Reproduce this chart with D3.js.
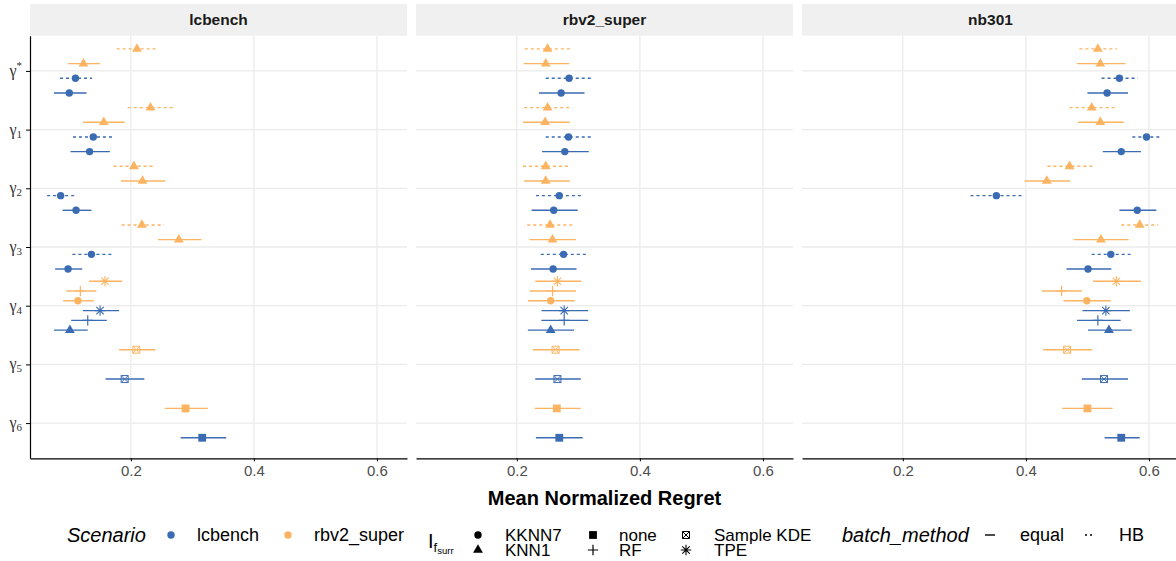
<!DOCTYPE html>
<html>
<head>
<meta charset="utf-8">
<script src="https://cdn.jsdelivr.net/npm/d3@7"></script>
<style>
  body { margin: 0; background: #fff; }
  svg { display: block; font-family: "Liberation Sans", Arial, sans-serif; }
</style>
</head>
<body>
<script>
/* CONSTANTS AND GLOBALS */
const width = 1176, height = 561;
const margin = { top: 4, left: 30 };
const stripH = 31.7, panelW = 377, panelGap = 9, panelH = 422.6;

const facets = ["lcbench", "rbv2_super", "nb301"];
const gammas = ["*", "1", "2", "3", "4", "5", "6"];
const scenarios = ["lcbench", "rbv2_super"];
const surrogates = ["KKNN7", "KNN1", "none", "RF", "Sample KDE", "TPE"];
const batchMethods = ["equal", "HB"];
const xTicks = [0.2, 0.4, 0.6];

// rows per facet, listed top-to-bottom inside each gamma
// [gamma, scenario, surrogate, batch_method, mean, lower, upper]
const lcbenchRows = [
  ["*", "rbv2_super", "KNN1", "HB", 0.210, 0.177, 0.245],
  ["*", "rbv2_super", "KNN1", "equal", 0.123, 0.098, 0.150],
  ["*", "lcbench", "KKNN7", "HB", 0.110, 0.085, 0.137],
  ["*", "lcbench", "KKNN7", "equal", 0.100, 0.075, 0.128],
  ["1", "rbv2_super", "KNN1", "HB", 0.232, 0.195, 0.270],
  ["1", "rbv2_super", "KNN1", "equal", 0.156, 0.122, 0.190],
  ["1", "lcbench", "KKNN7", "HB", 0.139, 0.106, 0.174],
  ["1", "lcbench", "KKNN7", "equal", 0.133, 0.102, 0.166],
  ["2", "rbv2_super", "KNN1", "HB", 0.205, 0.172, 0.240],
  ["2", "rbv2_super", "KNN1", "equal", 0.219, 0.184, 0.256],
  ["2", "lcbench", "KKNN7", "HB", 0.086, 0.064, 0.110],
  ["2", "lcbench", "KKNN7", "equal", 0.111, 0.089, 0.136],
  ["3", "rbv2_super", "KNN1", "HB", 0.218, 0.185, 0.254],
  ["3", "rbv2_super", "KNN1", "equal", 0.278, 0.244, 0.315],
  ["3", "lcbench", "KKNN7", "HB", 0.136, 0.105, 0.169],
  ["3", "lcbench", "KKNN7", "equal", 0.098, 0.077, 0.121],
  ["4", "rbv2_super", "TPE", "equal", 0.158, 0.132, 0.186],
  ["4", "rbv2_super", "RF", "equal", 0.118, 0.095, 0.144],
  ["4", "rbv2_super", "KKNN7", "equal", 0.114, 0.090, 0.140],
  ["4", "lcbench", "TPE", "equal", 0.150, 0.122, 0.181],
  ["4", "lcbench", "RF", "equal", 0.130, 0.103, 0.161],
  ["4", "lcbench", "KNN1", "equal", 0.101, 0.075, 0.130],
  ["5", "rbv2_super", "Sample KDE", "equal", 0.209, 0.181, 0.240],
  ["5", "lcbench", "Sample KDE", "equal", 0.190, 0.159, 0.222],
  ["6", "rbv2_super", "none", "equal", 0.289, 0.255, 0.325],
  ["6", "lcbench", "none", "equal", 0.316, 0.281, 0.355]
];

const rbv2Rows = [
  ["*", "rbv2_super", "KNN1", "HB", 0.250, 0.213, 0.288],
  ["*", "rbv2_super", "KNN1", "equal", 0.247, 0.211, 0.285],
  ["*", "lcbench", "KKNN7", "HB", 0.285, 0.247, 0.323],
  ["*", "lcbench", "KKNN7", "equal", 0.272, 0.236, 0.310],
  ["1", "rbv2_super", "KNN1", "HB", 0.250, 0.212, 0.288],
  ["1", "rbv2_super", "KNN1", "equal", 0.246, 0.210, 0.286],
  ["1", "lcbench", "KKNN7", "HB", 0.284, 0.247, 0.323],
  ["1", "lcbench", "KKNN7", "equal", 0.278, 0.241, 0.317],
  ["2", "rbv2_super", "KNN1", "HB", 0.247, 0.210, 0.286],
  ["2", "rbv2_super", "KNN1", "equal", 0.247, 0.212, 0.286],
  ["2", "lcbench", "KKNN7", "HB", 0.269, 0.231, 0.307],
  ["2", "lcbench", "KKNN7", "equal", 0.260, 0.224, 0.299],
  ["3", "rbv2_super", "KNN1", "HB", 0.254, 0.217, 0.293],
  ["3", "rbv2_super", "KNN1", "equal", 0.258, 0.221, 0.296],
  ["3", "lcbench", "KKNN7", "HB", 0.276, 0.239, 0.316],
  ["3", "lcbench", "KKNN7", "equal", 0.259, 0.223, 0.297],
  ["4", "rbv2_super", "TPE", "equal", 0.266, 0.230, 0.305],
  ["4", "rbv2_super", "RF", "equal", 0.258, 0.221, 0.296],
  ["4", "rbv2_super", "KKNN7", "equal", 0.255, 0.218, 0.294],
  ["4", "lcbench", "TPE", "equal", 0.277, 0.240, 0.316],
  ["4", "lcbench", "RF", "equal", 0.277, 0.240, 0.316],
  ["4", "lcbench", "KNN1", "equal", 0.255, 0.218, 0.293],
  ["5", "rbv2_super", "Sample KDE", "equal", 0.263, 0.226, 0.302],
  ["5", "lcbench", "Sample KDE", "equal", 0.266, 0.230, 0.304],
  ["6", "rbv2_super", "none", "equal", 0.265, 0.229, 0.304],
  ["6", "lcbench", "none", "equal", 0.269, 0.231, 0.307]
];

const nb301Rows = [
  ["*", "rbv2_super", "KNN1", "HB", 0.517, 0.487, 0.548],
  ["*", "rbv2_super", "KNN1", "equal", 0.521, 0.483, 0.562],
  ["*", "lcbench", "KKNN7", "HB", 0.552, 0.523, 0.582],
  ["*", "lcbench", "KKNN7", "equal", 0.532, 0.500, 0.566],
  ["1", "rbv2_super", "KNN1", "HB", 0.507, 0.471, 0.544],
  ["1", "rbv2_super", "KNN1", "equal", 0.521, 0.485, 0.559],
  ["1", "lcbench", "KKNN7", "HB", 0.596, 0.573, 0.621],
  ["1", "lcbench", "KKNN7", "equal", 0.555, 0.525, 0.587],
  ["2", "rbv2_super", "KNN1", "HB", 0.471, 0.435, 0.508],
  ["2", "rbv2_super", "KNN1", "equal", 0.434, 0.398, 0.472],
  ["2", "lcbench", "KKNN7", "HB", 0.352, 0.310, 0.396],
  ["2", "lcbench", "KKNN7", "equal", 0.581, 0.552, 0.612],
  ["3", "rbv2_super", "KNN1", "HB", 0.585, 0.555, 0.615],
  ["3", "rbv2_super", "KNN1", "equal", 0.522, 0.478, 0.567],
  ["3", "lcbench", "KKNN7", "HB", 0.538, 0.507, 0.570],
  ["3", "lcbench", "KKNN7", "equal", 0.501, 0.466, 0.539],
  ["4", "rbv2_super", "TPE", "equal", 0.547, 0.509, 0.587],
  ["4", "rbv2_super", "RF", "equal", 0.458, 0.426, 0.491],
  ["4", "rbv2_super", "KKNN7", "equal", 0.499, 0.461, 0.538],
  ["4", "lcbench", "TPE", "equal", 0.530, 0.492, 0.569],
  ["4", "lcbench", "RF", "equal", 0.517, 0.483, 0.554],
  ["4", "lcbench", "KNN1", "equal", 0.535, 0.501, 0.572],
  ["5", "rbv2_super", "Sample KDE", "equal", 0.467, 0.428, 0.508],
  ["5", "lcbench", "Sample KDE", "equal", 0.527, 0.491, 0.566],
  ["6", "rbv2_super", "none", "equal", 0.500, 0.459, 0.541],
  ["6", "lcbench", "none", "equal", 0.555, 0.528, 0.585]
];

const facetRows = { lcbench: lcbenchRows, rbv2_super: rbv2Rows, nb301: nb301Rows };

/* SCALES */
const allValues = [...lcbenchRows, ...rbv2Rows, ...nb301Rows].flatMap(r => [r[5], r[6]]);
const [vmin, vmax] = d3.extent(allValues);
const pad = (vmax - vmin) * 0.05;

const xScale = d3.scaleLinear()
  .domain([vmin - pad, vmax + pad])
  .range([0, panelW]);

const yScale = d3.scalePoint()
  .domain(gammas)
  .range([0, panelH])
  .padding(0.6);

const colorScale = d3.scaleOrdinal()
  .domain(scenarios)
  .range(["#3A6BB3", "#FDB462"]);

const dashScale = d3.scaleOrdinal()
  .domain(batchMethods)
  .range([null, "3,3"]);

// marker drawing for the surrogate shapes
function drawShape(g, surr, color) {
  if (surr === "KKNN7") {
    g.append("circle").attr("r", 3.7).attr("fill", color);
  } else if (surr === "KNN1") {
    g.append("path").attr("d", d3.symbol(d3.symbolTriangle, 42)()).attr("fill", color);
  } else if (surr === "none") {
    g.append("rect").attr("x", -3.9).attr("y", -3.9).attr("width", 7.8).attr("height", 7.8).attr("fill", color);
  } else if (surr === "RF") {
    g.append("path").attr("d", "M-5.2,0H5.2M0,-5.2V5.2").attr("stroke", color).attr("stroke-width", 1.2);
  } else if (surr === "TPE") {
    g.append("path")
      .attr("d", "M-5.2,0H5.2M0,-5.2V5.2M-3.7,-3.7L3.7,3.7M-3.7,3.7L3.7,-3.7")
      .attr("stroke", color).attr("stroke-width", 1.1);
  } else if (surr === "Sample KDE") {
    g.append("path")
      .attr("d", "M-3.5,-3.5H3.5V3.5H-3.5ZM-3.5,-3.5L3.5,3.5M-3.5,3.5L3.5,-3.5")
      .attr("fill", "none").attr("stroke", color).attr("stroke-width", 1);
  }
}

const svg = d3.select("body")
  .append("svg")
  .attr("width", width)
  .attr("height", height);

svg.append("rect").attr("width", width).attr("height", height).attr("fill", "#fff");

const step = yScale.step();

facets.forEach((facet, fi) => {
  const left = margin.left + fi * (panelW + panelGap);
  const top = margin.top + stripH;

  // strip
  svg.append("rect")
    .attr("x", left).attr("y", margin.top)
    .attr("width", panelW).attr("height", stripH)
    .attr("fill", "#F0F0F0");
  svg.append("text")
    .attr("x", left + panelW / 2).attr("y", margin.top + stripH / 2)
    .attr("dy", "0.36em")
    .attr("text-anchor", "middle")
    .attr("font-size", 15.5).attr("font-weight", "bold")
    .attr("fill", "#1a1a1a")
    .text(facet);

  const panel = svg.append("g").attr("transform", `translate(${left},${top})`);

  // grid
  panel.selectAll(".vgrid").data(xTicks).enter().append("line")
    .attr("x1", d => xScale(d)).attr("x2", d => xScale(d))
    .attr("y1", 0).attr("y2", panelH)
    .attr("stroke", "#EBEBEB").attr("stroke-width", 1.3);
  panel.selectAll(".hgrid").data(gammas).enter().append("line")
    .attr("x1", 0).attr("x2", panelW)
    .attr("y1", d => yScale(d)).attr("y2", d => yScale(d))
    .attr("stroke", "#EBEBEB").attr("stroke-width", 1.3);

  // rows with dodge inside each gamma
  const rows = facetRows[facet].map(r => ({
    gamma: r[0], scenario: r[1], surr: r[2], batch: r[3], mean: r[4], lo: r[5], hi: r[6]
  }));
  const groups = d3.group(rows, d => d.gamma);
  groups.forEach(list => {
    const n = list.length;
    list.forEach((d, i) => { d.y = yScale(d.gamma) + ((i + 0.5) / n - 0.5) * step; });
  });

  panel.selectAll(".bar").data(rows).enter().append("line")
    .attr("x1", d => xScale(d.lo)).attr("x2", d => xScale(d.hi))
    .attr("y1", d => d.y).attr("y2", d => d.y)
    .attr("stroke", d => colorScale(d.scenario))
    .attr("stroke-width", 1.4)
    .attr("stroke-dasharray", d => dashScale(d.batch));

  panel.selectAll(".pt").data(rows).enter().append("g")
    .attr("transform", d => `translate(${xScale(d.mean)},${d.y})`)
    .each(function(d) { drawShape(d3.select(this), d.surr, colorScale(d.scenario)); });

  // bottom axis
  const xAxis = d3.axisBottom(xScale)
    .tickValues(xTicks)
    .tickFormat(d3.format(".1f"))
    .tickSizeInner(3).tickSizeOuter(0).tickPadding(4);
  const ax = panel.append("g")
    .attr("transform", `translate(0,${panelH})`)
    .call(xAxis);
  ax.select(".domain").attr("stroke", "#000").attr("stroke-width", 1.2);
  ax.selectAll(".tick line").attr("stroke", "#000");
  ax.selectAll(".tick text").attr("font-size", 15).attr("fill", "#4D4D4D")
    .attr("font-family", "Liberation Sans, Arial, sans-serif");

  if (fi === 0) {
    const yAxis = d3.axisLeft(yScale).tickSizeInner(4).tickSizeOuter(0).tickFormat("");
    const ay = panel.append("g").call(yAxis);
    ay.select(".domain").attr("stroke", "#000").attr("stroke-width", 1.2);
    ay.selectAll(".tick line").attr("stroke", "#000");
    gammas.forEach(gm => {
      const t = panel.append("text")
        .attr("x", -8).attr("y", yScale(gm))
        .attr("dy", "0.32em")
        .attr("text-anchor", "end")
        .attr("font-size", 16).attr("fill", "#333")
        .attr("font-family", "Liberation Serif, serif");
      t.append("tspan").text("γ");
      if (gm === "*") {
        t.append("tspan").attr("font-size", 11).attr("dy", -7).text("*");
      } else {
        t.append("tspan").attr("font-size", 11).attr("dy", 3).text(gm);
      }
    });
  }
});

// x axis title
svg.append("text")
  .attr("x", margin.left + (3 * panelW + 2 * panelGap) / 2)
  .attr("y", 498).attr("dy", "0.35em")
  .attr("text-anchor", "middle")
  .attr("font-size", 20).attr("font-weight", "bold")
  .text("Mean Normalized Regret");

/* LEGEND */
const ly1 = 535, ly2 = 550, lyMid = (ly1 + ly2) / 2;
const legend = svg.append("g");

legend.append("text").attr("x", 67).attr("y", ly1).attr("dy", "0.35em")
  .attr("font-size", 20).attr("font-style", "italic").text("Scenario");
[[171, 197], [288, 314]].forEach(([kx, tx], i) => {
  legend.append("circle").attr("cx", kx).attr("cy", ly1).attr("r", 3.7).attr("fill", colorScale(scenarios[i]));
  legend.append("text").attr("x", tx).attr("y", ly1).attr("dy", "0.35em")
    .attr("font-size", 18).text(scenarios[i]);
});

// I_f_surr title
const it = legend.append("text").attr("x", 428).attr("y", lyMid - 2).attr("dy", "0.35em").attr("font-size", 20);
it.append("tspan").text("I");
it.append("tspan").attr("font-size", 13).attr("dy", 4).text("f");
it.append("tspan").attr("font-size", 9.5).attr("dy", 2.5).text("surr");

const shapeCols = [
  { kx: 478, tx: 505, items: ["KKNN7", "KNN1"] },
  { kx: 593, tx: 619, items: ["none", "RF"] },
  { kx: 686, tx: 714, items: ["Sample KDE", "TPE"] }
];
shapeCols.forEach(col => {
  col.items.forEach((s, i) => {
    const yy = i === 0 ? ly1 : ly2;
    const g = legend.append("g").attr("transform", `translate(${col.kx},${yy})`);
    drawShape(g, s, "#000");
    legend.append("text").attr("x", col.tx).attr("y", yy).attr("dy", "0.35em")
      .attr("font-size", 17).text(s);
  });
});

legend.append("text").attr("x", 842).attr("y", ly1).attr("dy", "0.35em")
  .attr("font-size", 20).attr("font-style", "italic").text("batch_method");
[[990, 1020], [1090, 1119]].forEach(([kx, tx], i) => {
  legend.append("line")
    .attr("x1", kx - 5).attr("x2", kx + 5).attr("y1", ly1).attr("y2", ly1)
    .attr("stroke", "#000").attr("stroke-width", 1.4)
    .attr("stroke-dasharray", dashScale(batchMethods[i]) ? "2,3" : null);
  legend.append("text").attr("x", tx).attr("y", ly1).attr("dy", "0.35em")
    .attr("font-size", 18).text(batchMethods[i]);
});
</script>
</body>
</html>
